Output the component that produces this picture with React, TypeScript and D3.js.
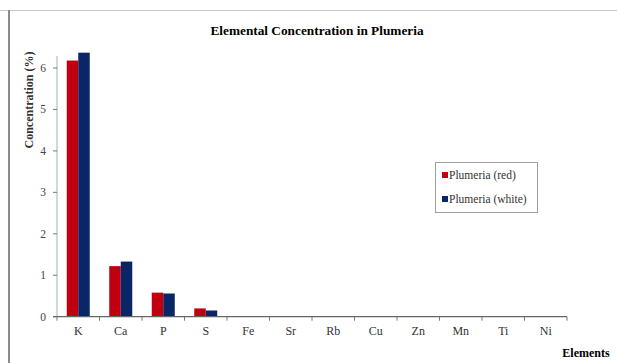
import React from "react";
import * as d3 from "d3";

const categories = ["K", "Ca", "P", "S", "Fe", "Sr", "Rb", "Cu", "Zn", "Mn", "Ti", "Ni"];
const redValues = [6.18, 1.22, 0.58, 0.2, 0.01, 0.005, 0.003, 0.003, 0.003, 0.002, 0.002, 0.001];
const whiteValues = [6.37, 1.33, 0.56, 0.15, 0.01, 0.005, 0.003, 0.003, 0.003, 0.002, 0.002, 0.001];
const seriesNames = ["Plumeria (red)", "Plumeria (white)"];
const yTicks = [0, 1, 2, 3, 4, 5, 6];

const W = 617, H = 363;
const left = 57, right = 567, bottom = 316.7;
const font = "'Liberation Serif', 'Times New Roman', serif";

export default function App() {
  const x = d3.scaleBand<string>().domain(categories).range([left, right]);
  const y = d3.scaleLinear().domain([0, 6]).range([bottom, 68]);
  const colors = ["#C00010", "#0A2666"];
  const bw = 11.5;
  return (
    <svg width={W} height={H} style={{ position: "absolute", left: 0, top: 0, background: "#fff" }}>
      <line x1={0} x2={W} y1={10.5} y2={10.5} stroke="#c8c8c8" strokeWidth={1} />
      <line x1={9} x2={9} y1={10} y2={H} stroke="#8a8a8a" strokeWidth={2} />
      <text x={317} y={35} textAnchor="middle" fontFamily={font} fontWeight="bold" fontSize={13.3}>
        Elemental Concentration in Plumeria
      </text>
      <text transform={`translate(33,100) rotate(-90)`} textAnchor="middle" fontFamily={font} fontWeight="bold" fontSize={12} fill="#333">
        Concentration (%)
      </text>
      {categories.map((c, i) => {
        const cx = x(c)! + x.bandwidth() / 2;
        return (
          <g key={c}>
            <rect x={cx - bw} y={y(redValues[i])} width={bw} height={bottom - y(redValues[i])} fill={colors[0]} />
            <rect x={cx} y={y(whiteValues[i])} width={bw} height={bottom - y(whiteValues[i])} fill={colors[1]} />
            <text x={cx} y={335} textAnchor="middle" fontFamily={font} fontSize={12} fill="#333">{c}</text>
          </g>
        );
      })}
      <line x1={left} x2={left} y1={56} y2={bottom} stroke="#9fb4b4" strokeWidth={1} />
      {yTicks.map((t) => (
        <g key={t}>
          <line x1={left - 4} x2={left} y1={y(t)} y2={y(t)} stroke="#777" />
          <text x={left - 14} y={y(t) + 4} textAnchor="middle" fontFamily={font} fontSize={11.5} fill="#444">{t}</text>
        </g>
      ))}
      <line x1={left - 4} x2={right} y1={bottom} y2={bottom} stroke="#666" strokeWidth={1.2} />
      {categories.map((c) => (
        <line key={c} x1={x(c)!} x2={x(c)!} y1={bottom} y2={bottom + 4} stroke="#777" />
      ))}
      <line x1={right} x2={right} y1={bottom} y2={bottom + 4} stroke="#777" />
      <text x={586} y={357} textAnchor="middle" fontFamily={font} fontWeight="bold" fontSize={12}>Elements</text>
      <rect x={435.5} y={162.5} width={102} height={50} fill="#fff" stroke="#a0a0a0" />
      {seriesNames.map((s, i) => (
        <g key={s}>
          <rect x={442} y={172 + i * 24} width={6} height={6} fill={colors[i]} />
          <text x={449} y={179 + i * 24} fontFamily={font} fontSize={11.5} fill="#333">{s}</text>
        </g>
      ))}
    </svg>
  );
}
